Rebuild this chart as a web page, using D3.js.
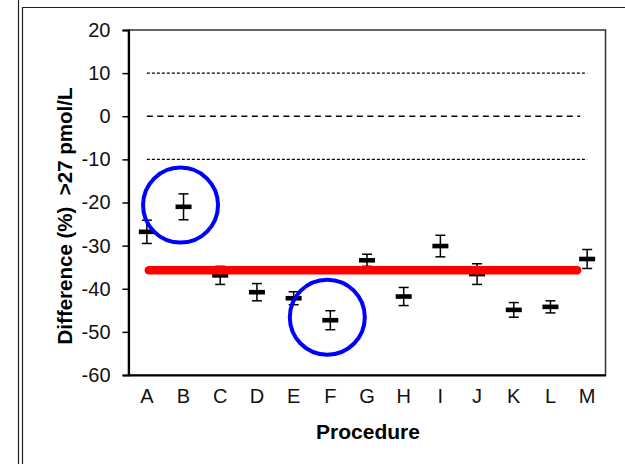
<!DOCTYPE html>
<html>
<head>
<meta charset="utf-8">
<script src="https://cdn.jsdelivr.net/npm/d3@7"></script>
<style>
  body { margin: 0; background: #fff; }
  text { font-family: "Liberation Sans", Arial, sans-serif; }
</style>
</head>
<body>
<div id="chart"></div>
<script>
// Data
const procedures = ["A", "B", "C", "D", "E", "F", "G", "H", "I", "J", "K", "L", "M"];
const meanDiff = [-26.8, -21.0, -36.9, -40.8, -42.2, -47.3, -33.4, -41.8, -30.1, -36.6, -44.9, -44.2, -33.1];
const errDiff = [2.7, 3.0, 2.1, 2.0, 1.5, 2.2, 1.4, 2.1, 2.5, 2.4, 1.7, 1.4, 2.2];
const yTicks = [20, 10, 0, -10, -20, -30, -40, -50, -60];
const limitLines = [10, -10];
const zeroLine = 0;
const overallLine = -35.7;
const circled = [{ cat: "B", value: -20.6 }, { cat: "F", value: -46.6 }];

const data = procedures.map((p, i) => ({ cat: p, mean: meanDiff[i], err: errDiff[i] }));

// Chart dimensions
const W = 625, H = 464;
const margin = { top: 30, right: 19.5, bottom: 89, left: 128.5 };

const svg = d3.select("#chart")
  .append("svg")
  .attr("width", W)
  .attr("height", H);

// panel frame (neighbour panel edge + this panel's border)
svg.append("line").attr("x1", 18.5).attr("x2", 18.5).attr("y1", 0).attr("y2", H)
  .attr("stroke", "#222").attr("stroke-width", 1.2);
svg.append("path").attr("d", `M22.5,${H} V7.5 H${W}`)
  .attr("fill", "none").attr("stroke", "#222").attr("stroke-width", 1.2);

const x = d3.scaleBand()
  .domain(procedures)
  .range([margin.left, W - margin.right]);
const cx = (c) => x(c) + x.bandwidth() / 2;

const y = d3.scaleLinear()
  .domain([-60, 20])
  .range([H - margin.bottom, margin.top]);

// plot area border
svg.append("rect")
  .attr("x", margin.left).attr("y", margin.top)
  .attr("width", W - margin.left - margin.right)
  .attr("height", H - margin.top - margin.bottom)
  .attr("fill", "none").attr("stroke", "#333").attr("stroke-width", 1.5);

// Add the y-axis.
const yAxis = svg.append("g")
  .attr("transform", `translate(${margin.left},0)`)
  .call(d3.axisLeft(y).tickValues(yTicks).tickSize(6).tickPadding(12).tickFormat((d) => String(d)));
yAxis.select(".domain").attr("stroke-width", 2.2);
yAxis.selectAll(".tick line").attr("stroke-width", 1.5);
yAxis.selectAll("text").style("font-size", "20px").attr("fill", "#111");

// Add the x-axis (labels only).
const xAxis = svg.append("g")
  .attr("transform", `translate(0,${H - margin.bottom})`)
  .call(d3.axisBottom(x).tickSize(0).tickPadding(14));
xAxis.select(".domain").attr("stroke-width", 2.2);
xAxis.selectAll("text").style("font-size", "20px").attr("fill", "#111");

// dashed reference lines
svg.selectAll(".limit")
  .data(limitLines)
  .enter().append("line")
  .attr("x1", cx("A")).attr("x2", cx("M"))
  .attr("y1", (d) => y(d)).attr("y2", (d) => y(d))
  .attr("stroke", "#000").attr("stroke-width", 1.3)
  .style("stroke-dasharray", "3, 2");
svg.append("line")
  .attr("x1", cx("A")).attr("x2", cx("M") - 7)
  .attr("y1", y(zeroLine)).attr("y2", y(zeroLine))
  .attr("stroke", "#000").attr("stroke-width", 1.6)
  .style("stroke-dasharray", "6, 4.5");

// error bars
const bars = svg.selectAll(".err")
  .data(data)
  .enter().append("g");
bars.append("line")
  .attr("x1", (d) => cx(d.cat)).attr("x2", (d) => cx(d.cat))
  .attr("y1", (d) => y(d.mean + d.err)).attr("y2", (d) => y(d.mean - d.err))
  .attr("stroke", "#000").attr("stroke-width", 1.5);
bars.append("line")
  .attr("x1", (d) => cx(d.cat) - 5).attr("x2", (d) => cx(d.cat) + 5)
  .attr("y1", (d) => y(d.mean + d.err)).attr("y2", (d) => y(d.mean + d.err))
  .attr("stroke", "#000").attr("stroke-width", 1.5);
bars.append("line")
  .attr("x1", (d) => cx(d.cat) - 5).attr("x2", (d) => cx(d.cat) + 5)
  .attr("y1", (d) => y(d.mean - d.err)).attr("y2", (d) => y(d.mean - d.err))
  .attr("stroke", "#000").attr("stroke-width", 1.5);

// dash markers for the means
svg.selectAll(".mark")
  .data(data)
  .enter().append("rect")
  .attr("x", (d) => cx(d.cat) - 8)
  .attr("y", (d) => y(d.mean) - 2.3)
  .attr("width", 16)
  .attr("height", 4.6)
  .attr("fill", "#000");

// thick red line
svg.append("line")
  .attr("x1", cx("A") + 2).attr("x2", cx("M") - 10)
  .attr("y1", y(overallLine)).attr("y2", y(overallLine))
  .attr("stroke", "#ff0000").attr("stroke-width", 8.5)
  .attr("stroke-linecap", "round");

// blue circles
svg.selectAll(".ring")
  .data(circled)
  .enter().append("circle")
  .attr("cx", (d) => cx(d.cat) - 3)
  .attr("cy", (d) => y(d.value))
  .attr("r", 37.5)
  .attr("fill", "none")
  .attr("stroke", "#0000ff")
  .attr("stroke-width", 4);

// axis titles
svg.append("text")
  .attr("transform", `translate(72,216) rotate(-90)`)
  .style("text-anchor", "middle")
  .style("font-size", "20.5px")
  .style("font-weight", "bold")
  .style("white-space", "pre")
  .text("Difference (%)  >27 pmol/L");

svg.append("text")
  .attr("x", 368)
  .attr("y", 439)
  .style("text-anchor", "middle")
  .style("font-size", "21px")
  .style("font-weight", "bold")
  .text("Procedure");
</script>
</body>
</html>
